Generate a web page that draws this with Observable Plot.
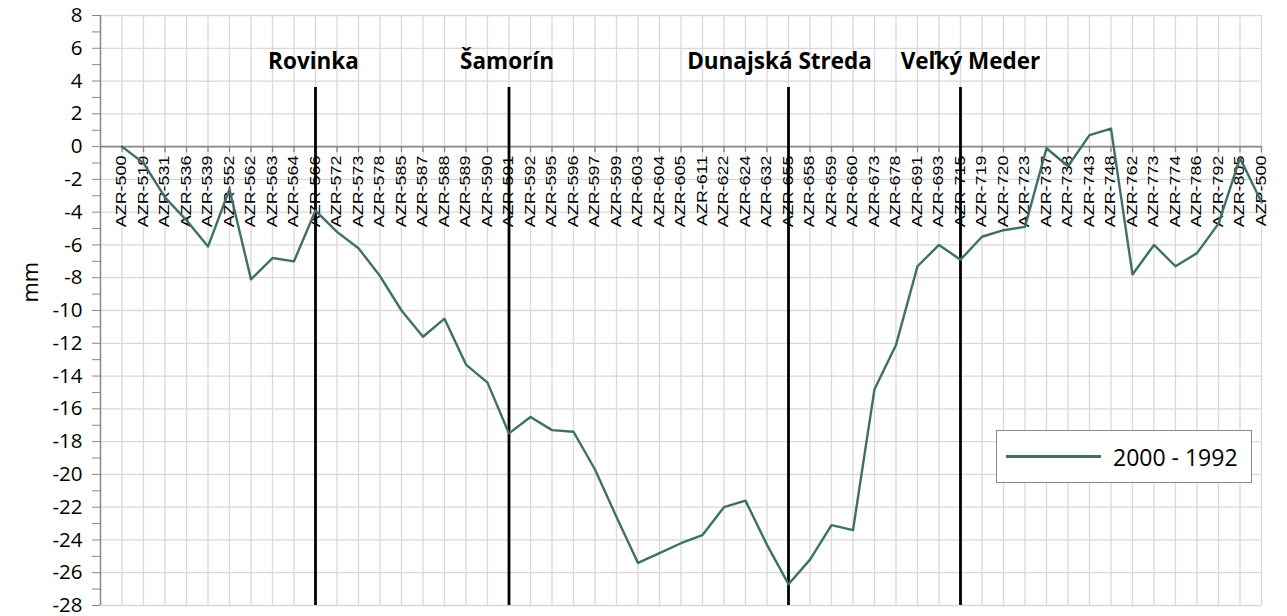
<!DOCTYPE html>
<html>
<head>
<meta charset="utf-8">
<script src="https://cdn.jsdelivr.net/npm/d3@7"></script>
<script src="https://cdn.jsdelivr.net/npm/@observablehq/plot@0.6"></script>
<style>
  html, body { margin: 0; padding: 0; background: #fff; }
  #wrap { position: relative; width: 1287px; height: 616px; overflow: hidden; }
  #wrap svg { position: absolute; left: 0; top: 0; overflow: visible; }
  #legend {
    position: absolute; left: 996px; top: 430px; width: 256px; height: 53px;
    border: 1.5px solid #8a8a8a; background: #fff; box-sizing: border-box;
    font-family: "Open Sans", sans-serif; font-size: 23px; color: #000;
    display: flex; align-items: center;
  }
  #legend .swatch { width: 95px; height: 3px; background: #3f6f6a; margin-left: 9px; margin-right: 12px; }
</style>
</head>
<body>
<div id="wrap"></div>
<script>
// ---- data ----
const categories = ["AZR-500","AZR-519","AZR-531","AZR-536","AZR-539","AZR-552","AZR-562","AZR-563","AZR-564","AZR-566",
  "AZR-572","AZR-573","AZR-578","AZR-585","AZR-587","AZR-588","AZR-589","AZR-590","AZR-591","AZR-592",
  "AZR-595","AZR-596","AZR-597","AZR-599","AZR-603","AZR-604","AZR-605","AZR-611","AZR-622","AZR-624",
  "AZR-632","AZR-655","AZR-658","AZR-659","AZR-660","AZR-673","AZR-678","AZR-691","AZR-693","AZR-715",
  "AZR-719","AZR-720","AZR-723","AZR-737","AZR-738","AZR-743","AZR-748","AZR-762","AZR-773","AZR-774",
  "AZR-786","AZR-792","AZR-805","AZP-500"];
const values = [0, -1.0, -3.1, -4.5, -6.1, -2.6, -8.1, -6.8, -7.0, -3.9,
  -5.2, -6.2, -7.9, -10.0, -11.6, -10.5, -13.3, -14.4, -17.5, -16.5,
  -17.3, -17.4, -19.7, -22.6, -25.4, -24.8, -24.2, -23.7, -22.0, -21.6,
  -24.3, -26.7, -25.2, -23.1, -23.4, -14.8, -12.1, -7.3, -6.0, -6.9,
  -5.5, -5.1, -4.9, -0.1, -1.2, 0.7, 1.1, -7.8, -6.0, -7.3,
  -6.5, -4.7, -0.7, -3.4];
const townNames = ["Rovinka", "Šamorín", "Dunajská Streda", "Veľký Meder"];
const townSites = ["AZR-566", "AZR-591", "AZR-655", "AZR-715"];
const yMajorTicks = d3.range(-28, 9, 2);
const yMinorTicks = d3.range(-27, 8, 2);
const seriesLabel = "2000 - 1992";
const yLabel = "mm";

// ---- derived ----
const idx = categories.map((c, i) => i);
const rows = categories.map((c, i) => ({i, c, v: values[i]}));
const towns = townNames.map((n, k) => ({name: n, i: categories.indexOf(townSites[k])}));
const townDx = [-2, -2, -9, 10];
const catSet = new Set(categories);

const lineColor = "#3f6f6a";
const gridColor = "#d9d9d9";
const axisColor = "#878787";

const plot = Plot.plot({
  width: 1287,
  height: 616,
  marginLeft: 100,
  marginRight: 26,
  marginTop: 15,
  marginBottom: 11,
  style: {background: "transparent", fontFamily: "'Open Sans', sans-serif", overflow: "visible"},
  x: {type: "linear", domain: [-1, categories.length - 1], axis: null},
  y: {domain: [-28, 8], axis: null},
  marks: [
    // grid
    Plot.ruleX(idx, {x: d => d, stroke: gridColor, strokeWidth: 1.3}),
    Plot.ruleY(yMajorTicks, {y: d => d, stroke: gridColor, strokeWidth: 1.3}),
    // y axis line
    Plot.ruleX([-1], {x: d => d, stroke: axisColor, strokeWidth: 1.5}),
    // y ticks and labels
    Plot.axisY(yMajorTicks, {tickSize: 8, tickPadding: 10, fontSize: 20.5, stroke: axisColor, color: "#000", tickFormat: d => String(d), label: null}),
    Plot.axisY(yMinorTicks, {tickSize: 8, tickFormat: () => "", stroke: axisColor, label: null}),
    // y title
    Plot.text([yLabel], {text: d => d, frameAnchor: "left", dx: -70, dy: -8, rotate: -90, fontSize: 22, fill: "#000"}),
    // x axis line at zero + ticks
    Plot.ruleY([0], {y: d => d, stroke: axisColor, strokeWidth: 1.8}),
    Plot.ruleX(idx, {x: d => d, y1: 0, y2: 0, insetBottom: -6, stroke: axisColor, strokeWidth: 1.3}),
    // category labels
    Plot.text(rows, {x: "i", y: 0, text: "c", rotate: -90, textAnchor: "end", dy: 9,
      fontSize: 14, fill: "#000", fontFamily: "'Liberation Sans', Arial, sans-serif"}),
    // town markers
    Plot.ruleX(towns, {x: "i", insetTop: 72, stroke: "#000", strokeWidth: 2.8}),
    ...towns.map((t, k) => Plot.text([t], {x: "i", text: "name", frameAnchor: "top", lineAnchor: "bottom", dy: 53, dx: townDx[k],
      fontSize: 22.5, fontWeight: "bold", fill: "#000"})),
    // series
    Plot.line(rows, {x: "i", y: "v", stroke: lineColor, strokeWidth: 2.4})
  ]
});

// stretch category labels along their length, as in the reference
d3.select(plot).selectAll("text").filter(function() { return catSet.has(this.textContent); }).each(function() {
  const t = this.getAttribute("transform") || "";
  this.setAttribute("transform", t + " scale(1.28,1)");
});

const wrap = document.getElementById("wrap");
wrap.appendChild(plot);
const legend = document.createElement("div");
legend.id = "legend";
legend.innerHTML = `<div class="swatch"></div><span>${seriesLabel}</span>`;
wrap.appendChild(legend);
</script>
</body>
</html>
